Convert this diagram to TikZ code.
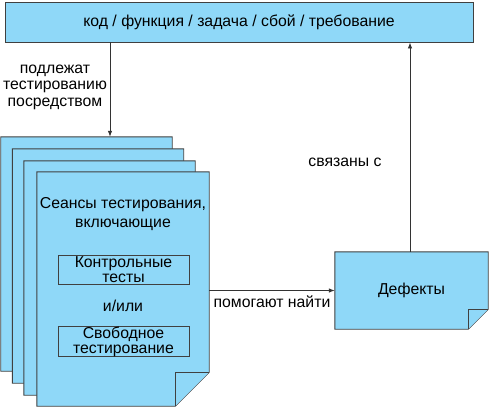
\documentclass[tikz,border=0pt]{standalone}
\usepackage{fontspec}
\setmainfont{Liberation Sans}
\usetikzlibrary{arrows.meta,calc}
\definecolor{docblue}{RGB}{143,216,248}
\definecolor{edge}{RGB}{64,64,64}
\tikzset{
  box/.style={draw=edge, fill=docblue, line width=0.9pt, inner sep=0pt, align=center},
  ghost/.style={draw=none, inner sep=0pt},
  docline/.style={draw=edge, fill=docblue, line width=0.9pt, line join=miter},
  inbox/.style={draw=edge, line width=0.9pt, inner sep=0pt, align=center, minimum width=131pt, minimum height=29pt},
  arr/.style={draw=black!80, line width=0.8pt, -{Latex[length=6pt,width=4.5pt]}},
  lbl/.style={align=center, inner sep=0pt},
  txt/.style={font=\fontsize{15.8}{17}\selectfont}
}
\newcommand\foldpage[2]{%
  \path[docline] (#1.north west) -- (#1.north east) -- ($(#1.south east)+(0,-#2)$)
     -- ($(#1.south east)+(-#2,0)$) -- (#1.south west) -- cycle;
  \path[docline] ($(#1.south east)+(-#2,0)$) -- ($(#1.south east)+(-#2,-#2)$) -- ($(#1.south east)+(0,-#2)$);
}
\begin{document}
\begin{tikzpicture}[x=1pt,y=-1pt,txt]
\useasboundingbox (0,0) rectangle (491,407);
% top box
\node[box, minimum width=468pt, minimum height=40pt] (top) at (239,22) {код / функция / задача / сбой / требование};
% pages
\node[ghost, minimum width=171pt, minimum height=234pt] (p1) at (86.5,254) {};
\node[ghost, minimum width=171pt, minimum height=234pt] (p2) at (98,266) {};
\node[ghost, minimum width=171pt, minimum height=234pt] (p3) at (109.5,278) {};
\node[ghost, minimum width=172pt, minimum height=234pt] (p4) at (123,289) {};
\foldpage{p1}{34}
\foldpage{p2}{34}
\foldpage{p3}{34}
\foldpage{p4}{34}
\node[lbl, font=\fontsize{15.8}{19.5}\selectfont] (t1) at (123,214) {Сеансы тестирования,\\включающие};
\node[inbox, font=\fontsize{15.8}{15}\selectfont] (k1) at (123.5,269.5) {Контрольные\\тесты};
\node[lbl] (or) at (123,306) {и/или};
\node[inbox, font=\fontsize{15.8}{15}\selectfont] (k2) at (123.5,341.5) {Свободное\\тестирование};
% defects
\node[ghost, minimum width=153pt, minimum height=77pt] (d) at (411.5,290.5) {};
\foldpage{d}{20}
\node[lbl] (dt) at (d) {Дефекты};
% connectors
\coordinate (a1) at (110,0);
\coordinate (a2) at (410,0);
\draw[arr] (top.south -| a1) -- (p1.north -| a1);
\draw[arr] (d.north -| a2) -- (top.south -| a2);
\draw[arr] (d.west -| p4.east) -- (d.west);
\node[lbl, font=\fontsize{15.8}{16.5}\selectfont] (l1) at (55,87) {подлежат\\тестированию\\посредством};
\node[lbl] (l2) at (345,162) {связаны с};
\node[lbl] (l3) at (272,302) {помогают найти};
\end{tikzpicture}
\end{document}
